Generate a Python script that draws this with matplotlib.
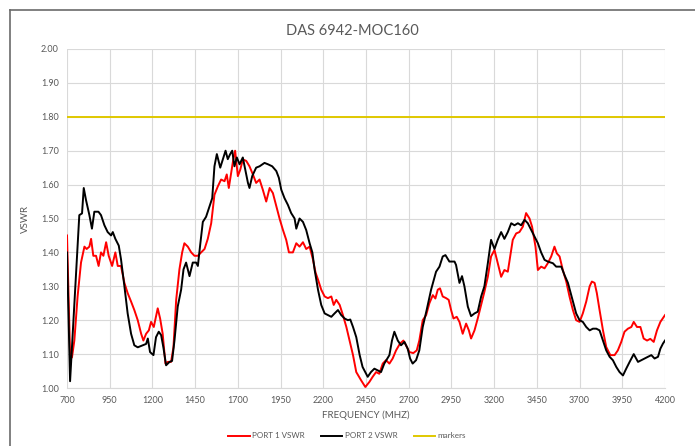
import matplotlib
matplotlib.use("Agg")
import matplotlib.pyplot as plt
from matplotlib.lines import Line2D

plt.rcParams["font.family"] = ["Lato", "DejaVu Sans"]

title = "DAS 6942-MOC160"
x_label = "FREQUENCY (MHZ)"
y_label = "VSWR"
x_ticks = list(range(700, 4201, 250))
y_ticks = [1.00, 1.10, 1.20, 1.30, 1.40, 1.50, 1.60, 1.70, 1.80, 1.90, 2.00]
marker_level = 1.80

# port 1 (red)
port1_freq = [700, 718, 729, 743, 762, 782, 802, 815, 831, 841, 854, 870, 885, 899,
              913, 929, 944, 964, 983, 997, 1016, 1036, 1055, 1075, 1094, 1114, 1134,
              1147, 1163, 1179, 1192, 1208, 1231, 1245, 1260, 1276, 1290, 1309, 1323,
              1339, 1358, 1374, 1387, 1407, 1427, 1446, 1466, 1485, 1505, 1524, 1544,
              1563, 1583, 1602, 1622, 1635, 1647, 1661, 1675, 1684, 1700, 1714, 1729,
              1749, 1768, 1788, 1807, 1827, 1846, 1866, 1886, 1905, 1925, 1944, 1964,
              1983, 1999, 2022, 2042, 2061, 2081, 2100, 2120, 2139, 2155, 2169, 2188,
              2208, 2227, 2247, 2261, 2276, 2296, 2315, 2335, 2354, 2374, 2393, 2421,
              2446, 2470, 2489, 2509, 2528, 2548, 2567, 2587, 2606, 2626, 2649, 2669,
              2684, 2704, 2727, 2747, 2762, 2782, 2802, 2821, 2841, 2856, 2870, 2883,
              2899, 2919, 2934, 2948, 2962, 2981, 2997, 3016, 3036, 3052, 3065, 3085,
              3104, 3124, 3143, 3163, 3182, 3202, 3221, 3241, 3260, 3280, 3294, 3309,
              3329, 3348, 3368, 3387, 3407, 3422, 3442, 3456, 3475, 3495, 3514, 3534,
              3553, 3567, 3583, 3602, 3622, 3641, 3661, 3680, 3700, 3719, 3739, 3759,
              3772, 3788, 3801, 3817, 3837, 3856, 3880, 3905, 3924, 3944, 3963, 3983,
              4003, 4017, 4036, 4056, 4075, 4095, 4114, 4134, 4153, 4173, 4200]
port1_vswr = [1.45, 1.10, 1.09, 1.14, 1.27, 1.37, 1.417, 1.41, 1.417, 1.44, 1.39, 1.39,
              1.36, 1.40, 1.39, 1.43, 1.39, 1.36, 1.40, 1.36, 1.36, 1.31, 1.28, 1.255,
              1.23, 1.20, 1.16, 1.14, 1.16, 1.17, 1.195, 1.18, 1.235, 1.205, 1.16, 1.072,
              1.077, 1.077, 1.12, 1.26, 1.35, 1.40, 1.427, 1.417, 1.40, 1.39, 1.39, 1.40,
              1.41, 1.44, 1.486, 1.57, 1.595, 1.615, 1.61, 1.63, 1.59, 1.635, 1.68, 1.70,
              1.625, 1.644, 1.674, 1.67, 1.654, 1.63, 1.605, 1.615, 1.585, 1.55, 1.59,
              1.575, 1.536, 1.50, 1.466, 1.437, 1.40, 1.40, 1.427, 1.417, 1.43, 1.41,
              1.417, 1.38, 1.34, 1.32, 1.29, 1.27, 1.265, 1.27, 1.245, 1.26, 1.245,
              1.215, 1.18, 1.14, 1.097, 1.047, 1.023, 1.003, 1.018, 1.033, 1.047, 1.042,
              1.072, 1.082, 1.072, 1.087, 1.111, 1.131, 1.14, 1.126, 1.106, 1.103, 1.111,
              1.14, 1.20, 1.215, 1.25, 1.274, 1.264, 1.29, 1.294, 1.27, 1.265, 1.26, 1.23,
              1.205, 1.21, 1.195, 1.16, 1.19, 1.17, 1.146, 1.17, 1.205, 1.245, 1.284,
              1.328, 1.388, 1.407, 1.368, 1.328, 1.348, 1.343, 1.388, 1.437, 1.456, 1.46,
              1.476, 1.516, 1.50, 1.476, 1.417, 1.348, 1.358, 1.353, 1.368, 1.388, 1.417,
              1.397, 1.388, 1.348, 1.314, 1.27, 1.23, 1.20, 1.195, 1.22, 1.255, 1.30,
              1.314, 1.31, 1.28, 1.23, 1.17, 1.121, 1.097, 1.097, 1.111, 1.136, 1.166,
              1.175, 1.18, 1.195, 1.18, 1.18, 1.146, 1.14, 1.145, 1.136, 1.17, 1.195, 1.215]

# port 2 (black)
port2_freq = [700, 718, 753, 772, 788, 798, 811, 831, 846, 860, 884, 899, 919, 938, 958,
              968, 983, 1003, 1016, 1036, 1055, 1075, 1094, 1114, 1143, 1163, 1173, 1186,
              1206, 1221, 1237, 1251, 1264, 1280, 1300, 1315, 1329, 1348, 1368, 1382,
              1397, 1417, 1436, 1456, 1466, 1479, 1495, 1514, 1534, 1550, 1563, 1577,
              1597, 1616, 1628, 1641, 1655, 1667, 1680, 1694, 1710, 1729, 1745, 1759,
              1768, 1784, 1807, 1827, 1856, 1876, 1901, 1925, 1940, 1954, 1973, 1993,
              2012, 2032, 2042, 2061, 2081, 2100, 2120, 2136, 2149, 2169, 2188, 2208,
              2227, 2247, 2266, 2286, 2305, 2325, 2344, 2358, 2374, 2393, 2413, 2430,
              2460, 2479, 2499, 2518, 2538, 2557, 2587, 2602, 2616, 2636, 2655, 2675,
              2694, 2708, 2723, 2743, 2762, 2782, 2805, 2831, 2860, 2880, 2899, 2915,
              2938, 2968, 2977, 2997, 3012, 3026, 3046, 3065, 3085, 3104, 3124, 3143,
              3163, 3182, 3202, 3221, 3241, 3260, 3280, 3300, 3319, 3339, 3358, 3378,
              3397, 3417, 3436, 3456, 3475, 3495, 3514, 3544, 3563, 3593, 3612, 3632,
              3661, 3680, 3700, 3719, 3739, 3759, 3778, 3798, 3817, 3837, 3856, 3876,
              3895, 3915, 3934, 3954, 3973, 3993, 4017, 4042, 4061, 4081, 4100, 4120,
              4139, 4159, 4173, 4188, 4200]
port2_vswr = [1.40, 1.02, 1.34, 1.51, 1.515, 1.59, 1.555, 1.51, 1.47, 1.52, 1.52, 1.51,
              1.48, 1.46, 1.45, 1.46, 1.44, 1.42, 1.38, 1.30, 1.22, 1.16, 1.126, 1.12,
              1.126, 1.13, 1.146, 1.106, 1.097, 1.15, 1.166, 1.156, 1.12, 1.067, 1.077,
              1.08, 1.14, 1.24, 1.29, 1.35, 1.37, 1.33, 1.37, 1.37, 1.36, 1.42, 1.49,
              1.505, 1.535, 1.56, 1.654, 1.69, 1.65, 1.68, 1.70, 1.675, 1.69, 1.70, 1.654,
              1.68, 1.66, 1.68, 1.64, 1.605, 1.59, 1.625, 1.65, 1.654, 1.664, 1.66, 1.654,
              1.64, 1.62, 1.585, 1.56, 1.54, 1.516, 1.50, 1.47, 1.50, 1.49, 1.466, 1.427,
              1.40, 1.35, 1.29, 1.245, 1.22, 1.215, 1.21, 1.22, 1.23, 1.215, 1.205, 1.20,
              1.202, 1.18, 1.15, 1.097, 1.062, 1.033, 1.047, 1.057, 1.052, 1.047, 1.072,
              1.097, 1.14, 1.166, 1.14, 1.126, 1.136, 1.116, 1.087, 1.072, 1.082, 1.111,
              1.18, 1.23, 1.29, 1.343, 1.358, 1.388, 1.392, 1.373, 1.373, 1.363, 1.31,
              1.33, 1.30, 1.24, 1.212, 1.22, 1.225, 1.27, 1.30, 1.368, 1.437, 1.41, 1.437,
              1.46, 1.44, 1.46, 1.486, 1.48, 1.486, 1.48, 1.496, 1.486, 1.466, 1.447,
              1.427, 1.40, 1.378, 1.373, 1.368, 1.358, 1.358, 1.333, 1.31, 1.255, 1.22,
              1.20, 1.195, 1.18, 1.17, 1.175, 1.175, 1.17, 1.14, 1.111, 1.092, 1.082,
              1.062, 1.047, 1.037, 1.057, 1.077, 1.10, 1.077, 1.082, 1.087, 1.092, 1.097,
              1.087, 1.092, 1.116, 1.131, 1.14]

text_color = "#595959"
grid_color = "#d9d9d9"

fig = plt.figure(figsize=(6.95, 4.46), dpi=100)
ax = fig.add_axes([67 / 695, 1 - 388 / 446, 598 / 695, 339 / 446])

ax.plot(port1_freq, port1_vswr, color="#ff0000", lw=1.4, label="PORT 1 VSWR", zorder=3)
ax.plot(port2_freq, port2_vswr, color="#000000", lw=1.4, label="PORT 2 VSWR", zorder=3)
ax.axhline(marker_level, color="#e0c800", lw=1.4, label="markers", zorder=2)

ax.set_xlim(700, 4200)
ax.set_ylim(1.0, 2.0)
ax.set_xticks(x_ticks)
ax.set_yticks(y_ticks)
ax.set_yticklabels([f"{v:.2f}" for v in y_ticks])
ax.tick_params(length=0, labelsize=6.5, colors=text_color, pad=6)
ax.grid(True, color=grid_color, lw=0.8, zorder=0)
for side in ("top", "right", "left"):
    ax.spines[side].set_visible(False)
ax.spines["bottom"].set_color(grid_color)

ax.set_xlabel(x_label, fontsize=7, color=text_color, labelpad=4)
ax.set_ylabel(y_label, fontsize=7, color=text_color, labelpad=8)
fig.text(352 / 695, 1 - 31 / 446, title, ha="center", va="center",
         fontsize=10.5, color=text_color)

handles, labels = ax.get_legend_handles_labels()
fig.legend(handles, labels, loc="center", bbox_to_anchor=(347 / 695, 1 - 436 / 446),
           ncol=3, frameon=False, fontsize=5.8, labelcolor=text_color,
           handlelength=2.7, handletextpad=0.3, columnspacing=2.0)

# chart frame (cropped in the reference, only left and top visible)
fig.add_artist(Line2D([10 / 695, 10 / 695], [0, 1 - 10 / 446], color="#6b6b6b", lw=1.2))
fig.add_artist(Line2D([10 / 695, 1], [1 - 10 / 446, 1 - 10 / 446], color="#6b6b6b", lw=1.2))

fig.savefig("out.png", dpi=100)
